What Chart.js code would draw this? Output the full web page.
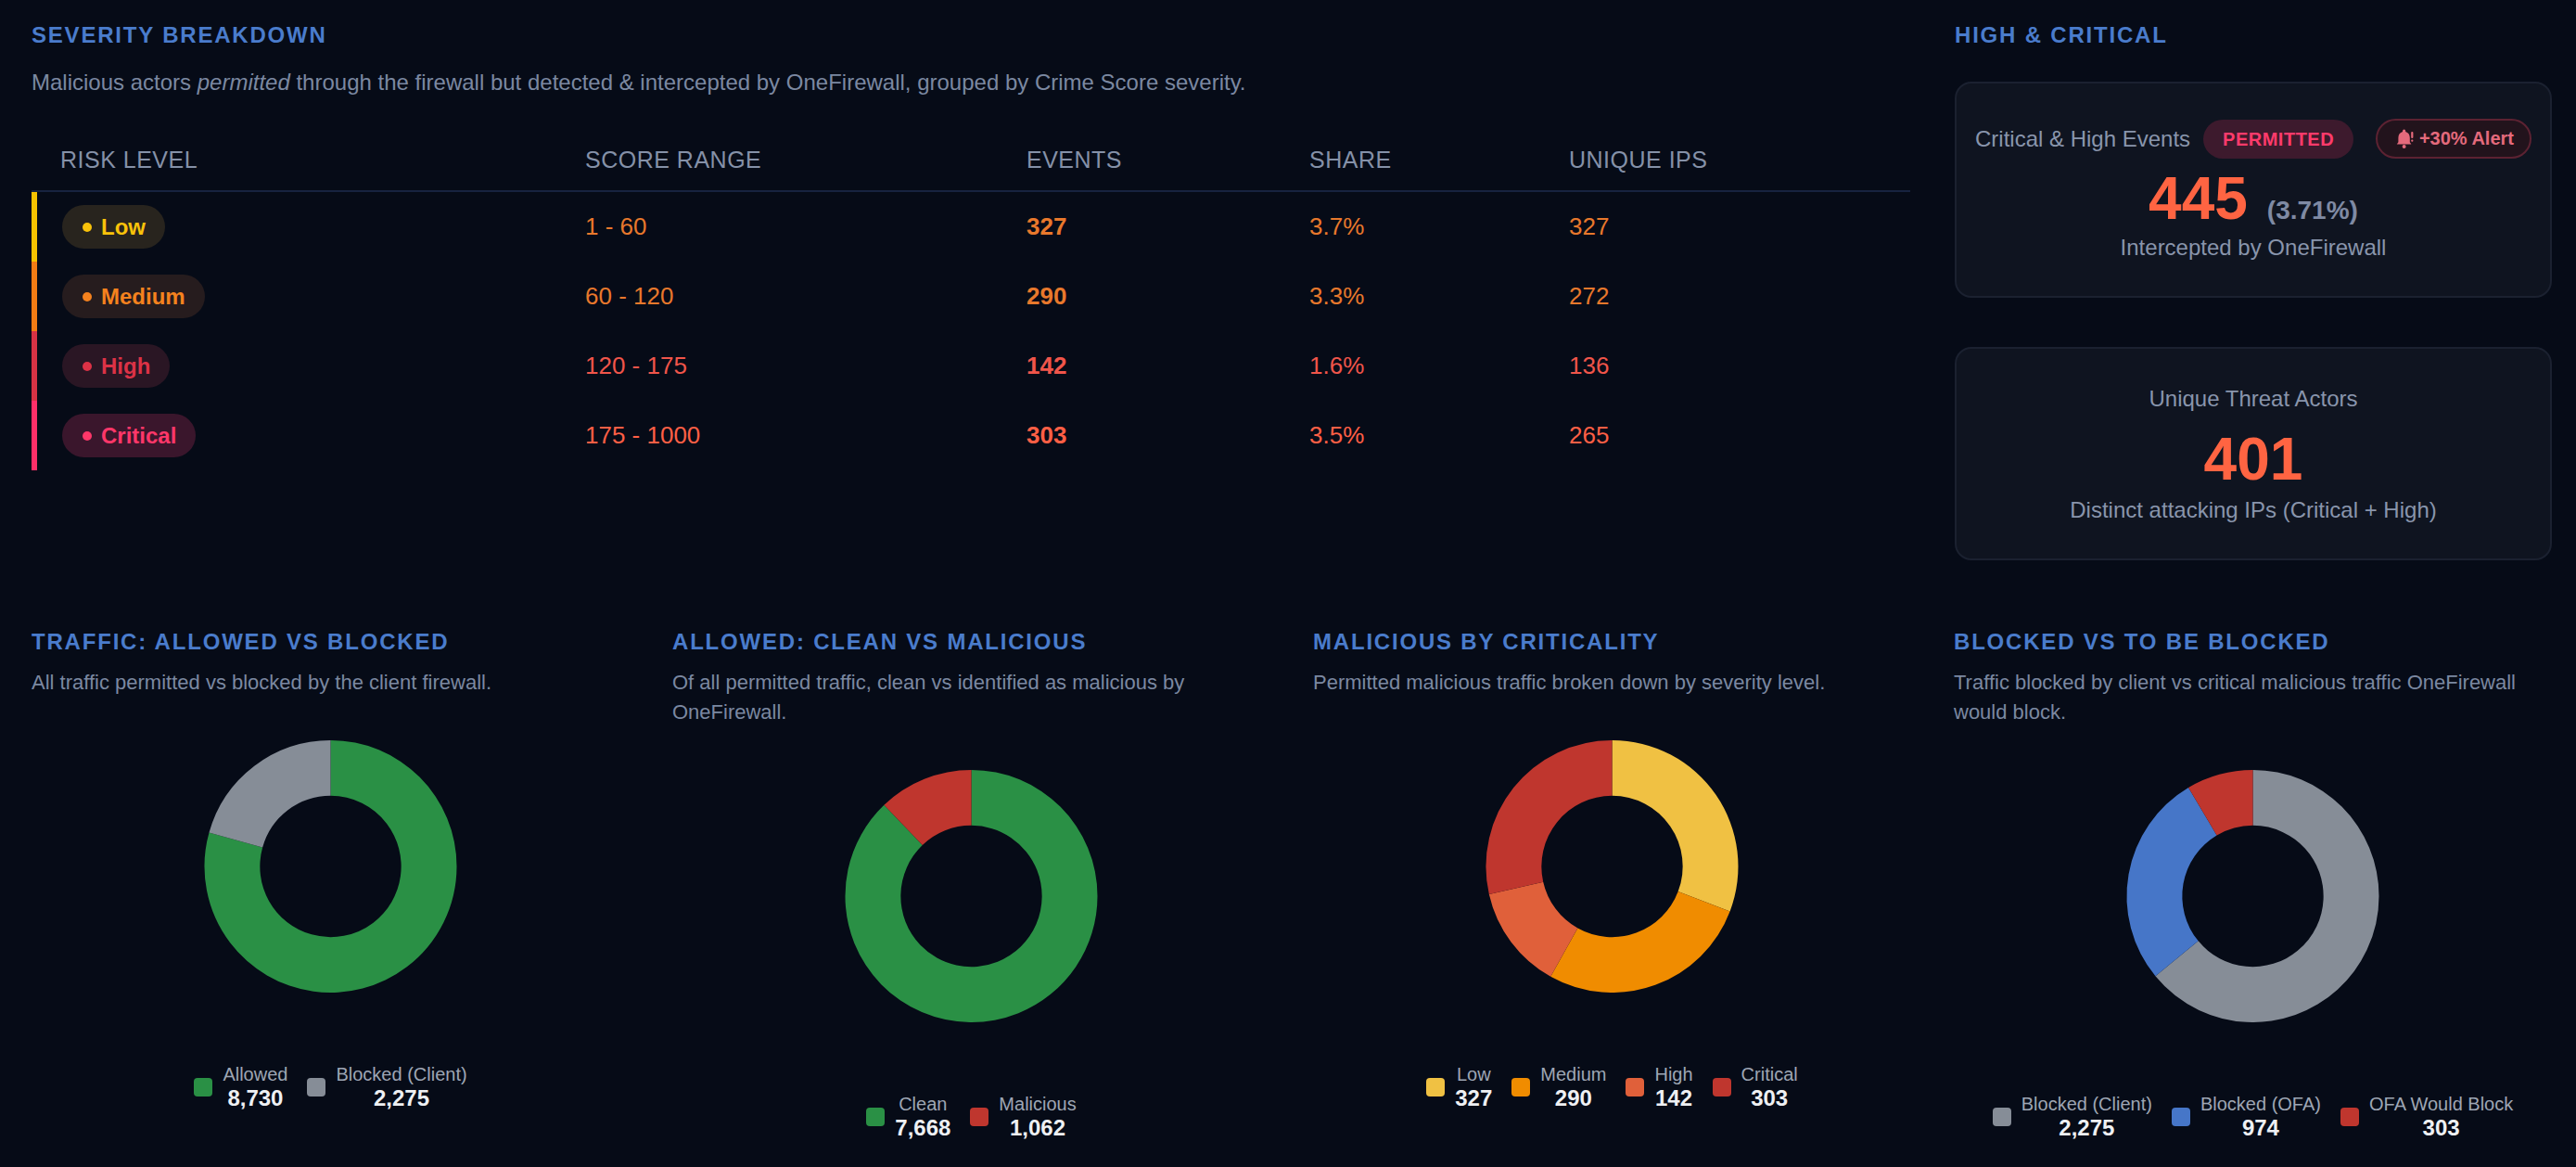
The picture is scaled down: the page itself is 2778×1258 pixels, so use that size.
<!DOCTYPE html>
<html lang="en">
<head>
<meta charset="utf-8">
<title>Severity Breakdown</title>
<script src="https://cdn.jsdelivr.net/npm/chart.js@4.4.1/dist/chart.umd.min.js"></script>
<style>
  html, body { margin: 0; padding: 0; }
  body {
    width: 2778px; height: 1258px; overflow: hidden; position: relative;
    background: #060b17;
    font-family: "Liberation Sans", Arial, Helvetica, sans-serif;
  }
  .section-title {
    margin: 0; font-size: 24px; font-weight: bold; line-height: 28px;
    letter-spacing: 1.8px; color: #4a7ccc; text-transform: uppercase;
  }

  /* bloc du haut */
  #top {
    position: absolute; left: 34px; top: 24px; width: 2718px;
    display: grid; grid-template-columns: 2026px 644px; column-gap: 48px;
  }
  .lead { margin: 21px 0 0 0; font-size: 24px; line-height: 32px; color: #7b88a1; }
  .grid-row { display: grid; grid-template-columns: 591px 476px 305px 280px 1fr; }
  .thead {
    margin-top: 53px; padding-left: 6px; padding-bottom: 19px;
    border-bottom: 2px solid #17233f;
    font-size: 25px; line-height: 28px; letter-spacing: 0.5px; color: #8591a8;
  }
  .thead div:first-child { padding-left: 25px; }
  .trow { height: 75px; align-items: center; border-left: 6px solid; font-size: 26px; }
  .trow .ev { font-weight: bold; }
  .pill-cell { padding-left: 27px; }
  .risk-pill {
    display: inline-flex; align-items: center; height: 47px; box-sizing: border-box;
    padding: 0 21px 0 22px; border-radius: 24px;
    font-size: 24px; font-weight: bold; line-height: 27px;
  }
  .risk-pill .dot { width: 10px; height: 10px; border-radius: 50%; margin-right: 10px; }

  /* cartes de droite */
  .card {
    box-sizing: border-box; border: 2px solid #1b2130; border-radius: 18px;
    background: #0f1420; text-align: center;
  }
  #card1 { margin-top: 36px; height: 233px; padding: 38px 20px 0 20px; }
  #card2 { margin-top: 53px; height: 230px; padding: 40px 20px 0 20px; }
  .card-head { display: flex; align-items: center; height: 43px; }
  .card-label { font-size: 24px; line-height: 28px; color: #8995ac; }
  .permitted {
    margin-left: 14px; height: 42px; line-height: 42px; padding: 0 21px;
    border-radius: 21px; background: #3d1a2d; color: #ff3b6b;
    font-size: 20px; font-weight: bold; letter-spacing: 0.5px;
  }
  .alert {
    margin-left: auto; height: 43px; box-sizing: border-box; padding: 0 17px 0 19px;
    border: 2px solid #5c2232; border-radius: 22px; background: #22131c; color: #e46a7c;
    display: flex; align-items: center; gap: 6px; font-size: 20px; font-weight: bold;
  }
  .big-line { display: flex; justify-content: center; align-items: baseline; }
  .big { font-size: 64px; line-height: 64px; font-weight: bold; color: #ff6442; }
  .pct { font-size: 28px; line-height: 32px; font-weight: bold; color: #7f8aa3; margin-left: 21px; }
  #card1 .big-line { margin-top: 11px; }
  #card1 .sub { margin-top: 7px; }
  #card2 .big-line { margin-top: 19px; }
  #card2 .sub { margin-top: 9px; }

  /* donuts */
  #bottom {
    position: absolute; left: 34px; top: 678px; width: 2718px;
    display: grid; grid-template-columns: repeat(4, 645px); column-gap: 46px;
  }
  .desc { margin: 14px 0 0 0; font-size: 22px; line-height: 32px; color: #7b88a1; }
  .chart-box { position: relative; height: 272px; margin-top: 46px; }
  .legend { display: flex; justify-content: center; align-items: center; gap: 21px; margin-top: 76px; }
  .legend-item { display: flex; align-items: center; gap: 11px; }
  .swatch { width: 20px; height: 20px; border-radius: 4px; }
  .legend-text { display: flex; flex-direction: column; align-items: center; }
  .legend-label { font-size: 20px; line-height: 24px; color: #9ea6b4; }
  .legend-value { font-size: 24px; line-height: 28px; font-weight: bold; color: #eef0f3; }
</style>
</head>
<body>

<div id="top">
  <div>
    <h2 class="section-title">Severity Breakdown</h2>
    <p class="lead">Malicious actors <em>permitted</em> through the firewall but detected &amp; intercepted by OneFirewall, grouped by Crime Score severity.</p>
    <div class="grid-row thead">
      <div>RISK LEVEL</div><div>SCORE RANGE</div><div>EVENTS</div><div>SHARE</div><div>UNIQUE IPS</div>
    </div>
    <div id="rows"></div>
  </div>
  <div>
    <h2 class="section-title">High &amp; Critical</h2>
    <div class="card" id="card1">
      <div class="card-head">
        <span class="card-label">Critical &amp; High Events</span>
        <span class="permitted">PERMITTED</span>
        <span class="alert">
          <svg width="20" height="22" viewBox="0 0 20 22"><path d="M8 2.2a1.6 1.6 0 0 1 3.2 0v0.9c2.9 0.8 4.6 3.3 4.6 6.3v4.8l1.6 2.2H1.8l1.6-2.2V9.4c0-3 1.7-5.5 4.6-6.3z" fill="#e46a7c"/><circle cx="9.6" cy="19" r="2" fill="#e46a7c"/><rect x="17.2" y="3" width="2.2" height="7" rx="1" fill="#e46a7c"/><rect x="17.2" y="11.5" width="2.2" height="2.2" rx="1" fill="#e46a7c"/></svg>
          <span id="alertText"></span>
        </span>
      </div>
      <div class="big-line"><span class="big" id="kpiEvents"></span><span class="pct" id="kpiShare"></span></div>
      <div class="card-label sub">Intercepted by OneFirewall</div>
    </div>
    <div class="card" id="card2">
      <div class="card-label">Unique Threat Actors</div>
      <div class="big-line"><span class="big" id="kpiActors"></span></div>
      <div class="card-label sub">Distinct attacking IPs (Critical + High)</div>
    </div>
  </div>
</div>

<div id="bottom">
  <div>
    <h2 class="section-title">Traffic: Allowed vs Blocked</h2>
    <p class="desc">All traffic permitted vs blocked by the client firewall.</p>
    <div class="chart-box"><canvas id="trafficChart"></canvas></div>
    <div class="legend" id="trafficLegend"></div>
  </div>
  <div>
    <h2 class="section-title">Allowed: Clean vs Malicious</h2>
    <p class="desc">Of all permitted traffic, clean vs identified as malicious by OneFirewall.</p>
    <div class="chart-box"><canvas id="allowedChart"></canvas></div>
    <div class="legend" id="allowedLegend"></div>
  </div>
  <div>
    <h2 class="section-title">Malicious by Criticality</h2>
    <p class="desc">Permitted malicious traffic broken down by severity level.</p>
    <div class="chart-box"><canvas id="criticalityChart"></canvas></div>
    <div class="legend" id="criticalityLegend"></div>
  </div>
  <div>
    <h2 class="section-title">Blocked vs To Be Blocked</h2>
    <p class="desc">Traffic blocked by client vs critical malicious traffic OneFirewall would block.</p>
    <div class="chart-box"><canvas id="blockedChart"></canvas></div>
    <div class="legend" id="blockedLegend"></div>
  </div>
</div>

<script>
// Tableau de sévérité
const riskLevels = ['Low', 'Medium', 'High', 'Critical'];
const scoreRanges = ['1 - 60', '60 - 120', '120 - 175', '175 - 1000'];
const riskEvents = [327, 290, 142, 303];
const riskShares = ['3.7%', '3.3%', '1.6%', '3.5%'];
const riskUniqueIps = [327, 272, 136, 265];

// Cartes High & Critical
const highCriticalEvents = 445;
const highCriticalShare = '(3.71%)';
const alertChange = '+30% Alert';
const uniqueThreatActors = 401;

// Donuts
const trafficLabels = ['Allowed', 'Blocked (Client)'];
const trafficValues = [8730, 2275];
const allowedLabels = ['Clean', 'Malicious'];
const allowedValues = [7668, 1062];
const criticalityLabels = ['Low', 'Medium', 'High', 'Critical'];
const criticalityValues = [327, 290, 142, 303];
const blockedLabels = ['Blocked (Client)', 'Blocked (OFA)', 'OFA Would Block'];
const blockedValues = [2275, 974, 303];

// Couleurs
const riskBarColors = ['#f7c300', '#f47c14', '#d83244', '#ff2f68'];
const riskPillBg = ['#28241e', '#261c1e', '#2a1624', '#3a162c'];
const riskPillText = ['#f9c20a', '#f5821e', '#dc3246', '#ff3769'];
const riskValueColors = ['#e8782c', '#e8782c', '#f0554a', '#ff5f45'];
const trafficColors = ['#2a9045', '#868d97'];
const allowedColors = ['#2a9045', '#bf362e'];
const criticalityColors = ['#f0c143', '#f08c00', '#e0603a', '#bf362e'];
const blockedColors = ['#868d97', '#4676c8', '#bf362e'];

// Remplit les lignes du tableau
const rowsEl = document.getElementById('rows');
riskLevels.forEach((level, i) => {
    const row = document.createElement('div');
    row.className = 'grid-row trow';
    row.style.borderLeftColor = riskBarColors[i];
    row.style.color = riskValueColors[i];
    row.innerHTML =
        `<div class="pill-cell"><span class="risk-pill" style="background:${riskPillBg[i]};color:${riskPillText[i]}">` +
        `<span class="dot" style="background:${riskPillText[i]}"></span>${level}</span></div>` +
        `<div>${scoreRanges[i]}</div>` +
        `<div class="ev">${riskEvents[i]}</div>` +
        `<div>${riskShares[i]}</div>` +
        `<div>${riskUniqueIps[i]}</div>`;
    rowsEl.appendChild(row);
});

document.getElementById('kpiEvents').textContent = highCriticalEvents;
document.getElementById('kpiShare').textContent = highCriticalShare;
document.getElementById('alertText').textContent = alertChange;
document.getElementById('kpiActors').textContent = uniqueThreatActors;

// Légende HTML construite à partir des items du graphique
function buildLegend(chart, legendId) {
    const legendEl = document.getElementById(legendId);
    const values = chart.data.datasets[0].data;
    const items = chart.options.plugins.legend.labels.generateLabels(chart);
    items.forEach((item) => {
        const el = document.createElement('div');
        el.className = 'legend-item';
        el.innerHTML =
            `<span class="swatch" style="background:${item.fillStyle}"></span>` +
            `<span class="legend-text"><span class="legend-label">${item.text}</span>` +
            `<span class="legend-value">${values[item.index].toLocaleString('en-US')}</span></span>`;
        legendEl.appendChild(el);
    });
}

// Crée un donut
function drawDonut(canvasId, legendId, labels, values, colors) {
    const chart = new Chart(document.getElementById(canvasId), {
        type: 'doughnut',
        data: {
            labels: labels,
            datasets: [{
                data: values,
                backgroundColor: colors,
                borderWidth: 0,
                hoverOffset: 0
            }]
        },
        options: {
            responsive: true,
            maintainAspectRatio: false,
            animation: false,
            cutout: '56%',
            plugins: {
                legend: { display: false },
                tooltip: {
                    callbacks: {
                        label: function(context) {
                            return context.label + ': ' + context.raw.toLocaleString('en-US');
                        }
                    }
                }
            }
        }
    });
    buildLegend(chart, legendId);
}

drawDonut('trafficChart', 'trafficLegend', trafficLabels, trafficValues, trafficColors);
drawDonut('allowedChart', 'allowedLegend', allowedLabels, allowedValues, allowedColors);
drawDonut('criticalityChart', 'criticalityLegend', criticalityLabels, criticalityValues, criticalityColors);
drawDonut('blockedChart', 'blockedLegend', blockedLabels, blockedValues, blockedColors);
</script>
</body>
</html>
